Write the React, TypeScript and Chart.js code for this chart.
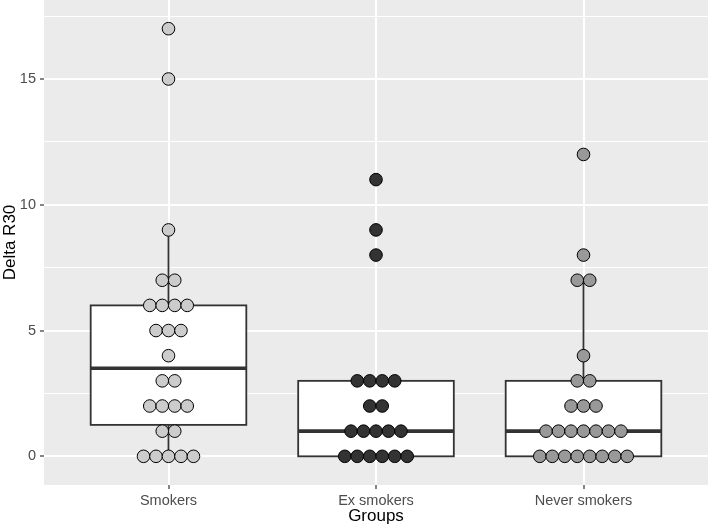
import React, { useEffect, useRef } from "react";
import { Chart, registerables } from "chart.js";

Chart.register(...registerables);

const categories = ["Smokers", "Ex smokers", "Never smokers"];
const smokers = [17, 15, 9, 7, 7, 6, 6, 6, 6, 5, 5, 5, 4, 3, 3, 2, 2, 2, 2, 1, 1, 0, 0, 0, 0, 0];
const exSmokers = [11, 9, 8, 3, 3, 3, 3, 2, 2, 1, 1, 1, 1, 1, 0, 0, 0, 0, 0, 0];
const neverSmokers = [12, 8, 7, 7, 4, 3, 3, 2, 2, 2, 1, 1, 1, 1, 1, 1, 1, 0, 0, 0, 0, 0, 0, 0, 0];
const groupFills = ["#CCCCCC", "#333333", "#999999"];
const yMajorTicks = [0, 5, 10, 15];
const yMinorTicks = [2.5, 7.5, 12.5, 17.5];
const yMin = -1.14;
const yMax = 18.14;
const xMin = -0.6;
const xMax = 2.6;
const dotStep = 0.0602;
const boxHalfWidth = 0.375;

const groups = [smokers, exSmokers, neverSmokers];

function quantile(sorted: number[], p: number) {
  const h = (sorted.length - 1) * p;
  const lo = Math.floor(h);
  const hi = Math.ceil(h);
  return sorted[lo] + (h - lo) * (sorted[hi] - sorted[lo]);
}

function boxStats(values: number[]) {
  const s = [...values].sort((a, b) => a - b);
  const q1 = quantile(s, 0.25);
  const med = quantile(s, 0.5);
  const q3 = quantile(s, 0.75);
  const iqr = q3 - q1;
  const lo = Math.min(...s.filter((v) => v >= q1 - 1.5 * iqr));
  const hi = Math.max(...s.filter((v) => v <= q3 + 1.5 * iqr));
  return { q1, med, q3, lo, hi };
}

function stackPoints(values: number[], index: number) {
  const counts = new Map<number, number>();
  values.forEach((v) => counts.set(v, (counts.get(v) || 0) + 1));
  const pts: { x: number; y: number }[] = [];
  counts.forEach((n, v) => {
    for (let k = 0; k < n; k++) {
      pts.push({ x: index + (k - (n - 1) / 2) * dotStep, y: v });
    }
  });
  return pts;
}

const panelBg = {
  id: "panelBg",
  beforeDraw(chart: any) {
    const { ctx, chartArea } = chart;
    ctx.save();
    ctx.fillStyle = "#EBEBEB";
    ctx.fillRect(chartArea.left, chartArea.top, chartArea.right - chartArea.left, chartArea.bottom - chartArea.top);
    ctx.restore();
  },
};

const boxPlugin = {
  id: "boxPlugin",
  beforeDatasetsDraw(chart: any) {
    const { ctx } = chart;
    const xs = chart.scales.x;
    const ys = chart.scales.y;
    ctx.save();
    groups.forEach((vals, i) => {
      const st = boxStats(vals);
      const cx = xs.getPixelForValue(i);
      const l = xs.getPixelForValue(i - boxHalfWidth);
      const r = xs.getPixelForValue(i + boxHalfWidth);
      const yq1 = ys.getPixelForValue(st.q1);
      const yq3 = ys.getPixelForValue(st.q3);
      const ymed = ys.getPixelForValue(st.med);
      const ylo = ys.getPixelForValue(st.lo);
      const yhi = ys.getPixelForValue(st.hi);
      ctx.strokeStyle = "#333333";
      ctx.lineWidth = 1.8;
      ctx.beginPath();
      ctx.moveTo(cx, yq3);
      ctx.lineTo(cx, yhi);
      ctx.moveTo(cx, yq1);
      ctx.lineTo(cx, ylo);
      ctx.stroke();
      ctx.fillStyle = "#FFFFFF";
      ctx.fillRect(l, yq3, r - l, yq1 - yq3);
      ctx.strokeRect(l, yq3, r - l, yq1 - yq3);
      ctx.lineWidth = 3.6;
      ctx.beginPath();
      ctx.moveTo(l, ymed);
      ctx.lineTo(r, ymed);
      ctx.stroke();
    });
    ctx.restore();
  },
};

export default function App() {
  const ref = useRef<HTMLCanvasElement | null>(null);
  useEffect(() => {
    document.body.style.margin = "0";
    const canvas = ref.current;
    if (!canvas) return;
    const yAll = [...yMajorTicks, ...yMinorTicks].sort((a, b) => a - b);
    const chart = new Chart(canvas, {
      type: "scatter",
      data: {
        datasets: groups.map((vals, i) => ({
          label: categories[i],
          data: stackPoints(vals, i),
          backgroundColor: groupFills[i],
          borderColor: "#000000",
          borderWidth: 1,
          pointRadius: 6.3,
          pointHoverRadius: 6.3,
        })),
      },
      options: {
        responsive: false,
        animation: false,
        events: [],
        layout: { padding: 0, autoPadding: false },
        plugins: { legend: { display: false }, tooltip: { enabled: false } },
        scales: {
          x: {
            type: "linear",
            min: xMin,
            max: xMax,
            border: { display: false },
            afterBuildTicks: (s: any) => {
              s.ticks = categories.map((_, i) => ({ value: i }));
            },
            afterFit: (s: any) => {
              s.height = 43;
              s.paddingLeft = 0;
              s.paddingRight = 0;
              s.paddingTop = 0;
              s.paddingBottom = 0;
            },
            grid: {
              color: "#FFFFFF",
              lineWidth: 2,
              tickColor: "#333333",
              tickLength: 4,
              tickWidth: 1.2,
            },
            ticks: {
              color: "#4D4D4D",
              font: { family: "Liberation Sans", size: 14.5 },
              padding: 3,
              maxRotation: 0,
              autoSkip: false,
              callback: (v: any) => categories[Math.round(Number(v))] ?? "",
            },
            title: {
              display: true,
              text: "Groups",
              color: "#000000",
              font: { family: "Liberation Sans", size: 17 },
              padding: { top: 0, bottom: 1 },
            },
          },
          y: {
            type: "linear",
            min: yMin,
            max: yMax,
            border: { display: false },
            afterBuildTicks: (s: any) => {
              s.ticks = yAll.map((v) => ({ value: v }));
            },
            afterFit: (s: any) => {
              s.width = 44;
              s.paddingLeft = 0;
              s.paddingRight = 0;
              s.paddingTop = 0;
              s.paddingBottom = 0;
            },
            grid: {
              color: "#FFFFFF",
              lineWidth: (c: any) => (yMajorTicks.includes(c.tick?.value) ? 2 : 1),
              tickColor: (c: any) => (yMajorTicks.includes(c.tick?.value) ? "#333333" : "rgba(0,0,0,0)"),
              tickLength: 4,
              tickWidth: 1.2,
            },
            ticks: {
              color: "#4D4D4D",
              font: { family: "Liberation Sans", size: 14.5 },
              padding: 4,
              autoSkip: false,
              callback: (v: any) => (yMajorTicks.includes(Number(v)) ? String(v) : ""),
            },
            title: {
              display: true,
              text: "Delta R30",
              color: "#000000",
              font: { family: "Liberation Sans", size: 17 },
              padding: { top: 0, bottom: 0 },
            },
          },
        },
      },
      plugins: [panelBg, boxPlugin],
    });
    return () => chart.destroy();
  }, []);
  return <canvas ref={ref} width={708} height={528} style={{ display: "block" }} />;
}
